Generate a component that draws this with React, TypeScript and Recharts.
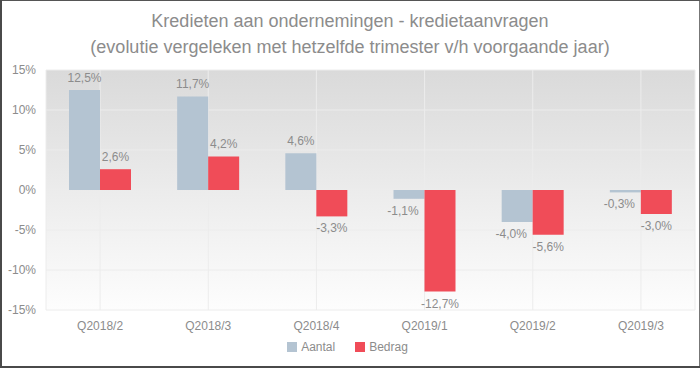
import React from 'react';
import {
    BarChart,
    Bar,
    XAxis,
    YAxis,
    CartesianGrid,
    Legend,
    LabelList,
} from 'recharts';

const quarters = ['Q2018/2', 'Q2018/3', 'Q2018/4', 'Q2019/1', 'Q2019/2', 'Q2019/3'];
const aantal = [12.5, 11.7, 4.6, -1.1, -4.0, -0.3];
const bedrag = [2.6, 4.2, -3.3, -12.7, -5.6, -3.0];
const yTicks = [-15, -10, -5, 0, 5, 10, 15];

const titleLines = [
    'Kredieten aan ondernemingen - kredietaanvragen',
    '(evolutie vergeleken met hetzelfde trimester v/h voorgaande jaar)',
];

const FONT = '"Liberation Sans", Arial, sans-serif';
const TEXT = '#8c8c8c';

const data = quarters.map((q, i) => ({ name: q, aantal: aantal[i], bedrag: bedrag[i] }));

const fmt = (v: number) => `${v.toFixed(1).replace('.', ',')}%`;

// value label above positive bars, below negative ones
const makeLabel = (negShift: number) => (props: any) => {
    const { x, y, width, height, value } = props;
    const top = Math.min(y, y + height);
    const bottom = Math.max(y, y + height);
    const neg = value < 0;
    const cx = x + width / 2 + (neg ? negShift : 0);
    const cy = neg ? bottom + 12 : top - 12;
    return (
        <text x={cx} y={cy} textAnchor="middle" dominantBaseline="central" fill={TEXT} fontSize={12} fontFamily={FONT}>
            {fmt(value)}
        </text>
    );
};

const LegendContent = ({ payload }: any) => (
    <div style={{ display: 'flex', justifyContent: 'center', alignItems: 'center', gap: 20 }}>
        {(payload || []).map((entry: any) => (
            <div key={entry.value} style={{ display: 'flex', alignItems: 'center', gap: 4 }}>
                <div style={{ width: 10, height: 10, backgroundColor: entry.color }} />
                <span style={{ color: TEXT, fontSize: 12, fontFamily: FONT }}>{entry.value}</span>
            </div>
        ))}
    </div>
);

export default function App() {
    return (
        <div
            style={{
                position: 'absolute',
                left: 0,
                top: 0,
                width: 700,
                height: 368,
                background: '#ffffff',
                boxShadow: 'inset 2px 0 0 #4a4a4a, inset 0 -2px 0 #4a4a4a, inset 0 1px 0 #555, inset -1px 0 0 #777',
                fontFamily: FONT,
            }}
        >
            <div
                style={{
                    position: 'absolute',
                    top: 8,
                    left: 0,
                    width: 700,
                    textAlign: 'center',
                    color: TEXT,
                    fontSize: 18,
                    lineHeight: '26px',
                }}
            >
                {titleLines.map((t) => (
                    <div key={t}>{t}</div>
                ))}
            </div>
            <BarChart
                width={700}
                height={368}
                data={data}
                margin={{ top: 70, right: 5, bottom: 4, left: 0 }}
                barGap={0}
                barSize={31}
                style={{ position: 'absolute', left: 0, top: 0 }}
            >
                <defs>
                    <linearGradient id="plotBg" x1="0" y1="0" x2="0" y2="1">
                        <stop offset="0%" stopColor="#dadada" />
                        <stop offset="100%" stopColor="#fdfdfd" />
                    </linearGradient>
                </defs>
                <CartesianGrid fill="url(#plotBg)" stroke="#ececec" strokeWidth={1} />
                <XAxis
                    dataKey="name"
                    height={30}
                    tickLine={false}
                    axisLine={false}
                    tickMargin={5}
                    tick={{ fontSize: 12, fill: TEXT, fontFamily: FONT }}
                />
                <YAxis
                    width={46}
                    domain={[-15, 15]}
                    ticks={yTicks}
                    tickLine={false}
                    axisLine={false}
                    tickMargin={4}
                    tickFormatter={(v) => `${v}%`}
                    tick={{ fontSize: 12, fill: TEXT, fontFamily: FONT }}
                />
                <Legend verticalAlign="bottom" height={24} content={<LegendContent />} />
                <Bar dataKey="aantal" name="Aantal" fill="#b4c4d2" isAnimationActive={false}>
                    <LabelList dataKey="aantal" content={makeLabel(-6)} />
                </Bar>
                <Bar dataKey="bedrag" name="Bedrag" fill="#f04c58" isAnimationActive={false}>
                    <LabelList dataKey="bedrag" content={makeLabel(0)} />
                </Bar>
            </BarChart>
        </div>
    );
}
